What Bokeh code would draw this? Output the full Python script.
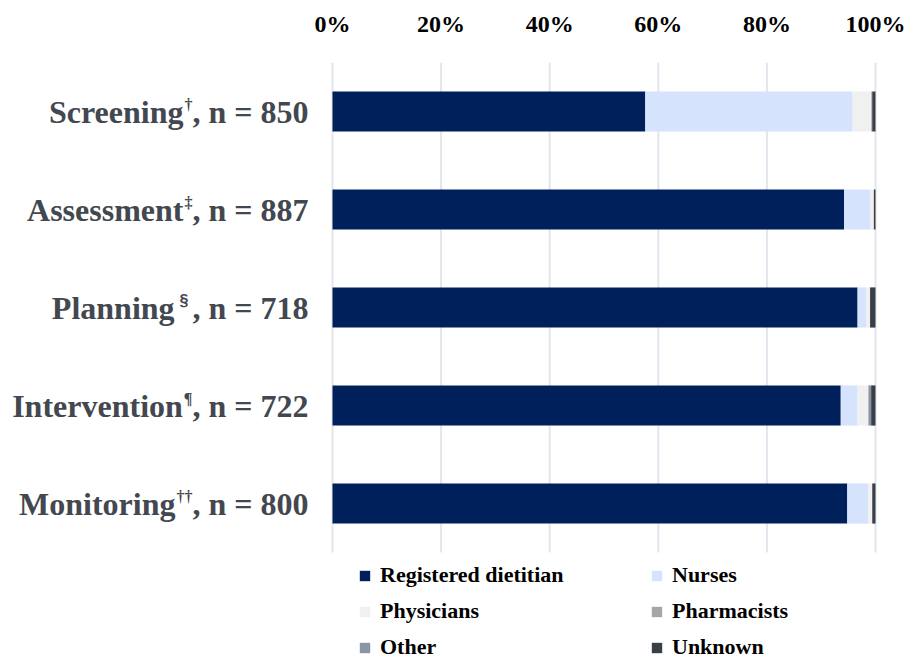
from bokeh.plotting import figure
from bokeh.models import (Label, Legend, LegendItem, Range1d,
                          FixedTicker, ColumnDataSource)
from bokeh.embed import file_html
from bokeh.resources import INLINE

# ---------------- data ----------------
stages = ["Screening", "Assessment", "Planning", "Intervention", "Monitoring"]
footnotes = ["\u2020", "\u2021", "\u00a7", "\u00b6", "\u2020\u2020"]
sample_sizes = [850, 887, 718, 722, 800]

series = ["Registered dietitian", "Nurses", "Physicians", "Pharmacists", "Other", "Unknown"]
registered_dietitian = [57.6, 94.2, 96.7, 93.6, 94.8]
nurses = [38.2, 4.8, 1.6, 3.1, 3.9]
physicians = [3.4, 0.7, 0.7, 2.0, 0.7]
pharmacists = [0.1, 0.0, 0.0, 0.0, 0.0]
other = [0.1, 0.0, 0.0, 0.5, 0.0]
unknown = [0.6, 0.3, 1.0, 0.8, 0.6]

x_ticks = [0, 20, 40, 60, 80, 100]
x_tick_labels = ["0%", "20%", "40%", "60%", "80%", "100%"]

colors = ["#00205c", "#d6e3fc", "#f0f0f0", "#a6a6a6", "#8a94a4", "#3a3e46"]

SERIF = "'Times New Roman', 'Liberation Serif', serif"
SANS = "Arial, 'Liberation Sans', sans-serif"

# ---------------- layout constants (pixels) ----------------
WIDTH, HEIGHT = 912, 658
PLOT_LEFT, PLOT_RIGHT = 332, 875      # where 0% and 100% fall
TOP = 62                              # top of the bar area
ROW_PX = 98                           # pixels per category

n_cat = len(stages)
ypos = [n_cat - 1 - i for i in range(n_cat)]   # first category on top

px_per_unit = (PLOT_RIGHT - PLOT_LEFT) / 100.0
x_start = 0 - PLOT_LEFT / px_per_unit
x_end = 100 + (WIDTH - PLOT_RIGHT) / px_per_unit
y_top = n_cat - 0.5
y_bottom = y_top - (HEIGHT - TOP) / ROW_PX

source = ColumnDataSource(dict(
    y=ypos,
    s0=registered_dietitian, s1=nurses, s2=physicians,
    s3=pharmacists, s4=other, s5=unknown,
))

p = figure(width=WIDTH, height=HEIGHT, output_backend="svg", toolbar_location=None,
           y_range=Range1d(y_bottom, y_top),
           x_range=Range1d(x_start, x_end), x_axis_location="above",
           min_border_left=0, min_border_right=0,
           min_border_top=TOP, min_border_bottom=0)

# vertical gridlines limited to the bar area
grid_src = ColumnDataSource(dict(x=x_ticks, y0=[-0.5] * len(x_ticks),
                                 y1=[n_cat - 0.5] * len(x_ticks)))
p.segment(x0="x", x1="x", y0="y0", y1="y1", source=grid_src,
          line_color="#e2e6ec", line_width=2, level="underlay")

renderers = p.hbar_stack(["s0", "s1", "s2", "s3", "s4", "s5"], y="y",
                         height=0.41, color=colors, line_color=None, source=source)

p.outline_line_color = None
p.yaxis.visible = False
p.xgrid.visible = False
p.ygrid.visible = False

ax = p.xaxis[0]
ax.ticker = FixedTicker(ticks=x_ticks)
ax.major_label_overrides = {t: l for t, l in zip(x_ticks, x_tick_labels)}
ax.axis_line_color = None
ax.major_tick_line_color = None
ax.minor_tick_line_color = None
ax.major_label_text_font = SERIF
ax.major_label_text_font_style = "bold"
ax.major_label_text_font_size = "24px"
ax.major_label_text_color = "black"
ax.major_label_standoff = 20

# ---------------- category labels (with superscripts) ----------------
W = {" ": 250, ",": 250, "n": 556, "=": 570, "\u2020": 500, "\u2021": 500,
     "\u00a7": 556, "\u00b6": 540}
for d in "0123456789":
    W[d] = 500

cat_size = 32
sup_size = 16
label_color = "#434850"
gap = 24

for yv, stage, fn, n in zip(ypos, stages, footnotes, sample_sizes):
    suffix = ", n = %d" % n
    w_suffix = sum(W[c] for c in suffix) / 1000 * cat_size
    sup_font = SERIF
    extra = 1
    if fn == "\u00a7":
        sup_font = SANS
        extra = 9
    w_sup = sum(W[c] for c in fn) / 1000 * sup_size + extra
    p.add_layout(Label(x=0, y=yv, x_offset=-gap, text=suffix,
                       text_align="right", text_baseline="middle",
                       text_font=SERIF, text_font_style="bold",
                       text_font_size="%dpx" % cat_size, text_color=label_color))
    p.add_layout(Label(x=0, y=yv, x_offset=-gap - w_suffix - (extra - 1) / 2,
                       y_offset=7, text=fn,
                       text_align="right", text_baseline="middle",
                       text_font=sup_font, text_font_style="bold",
                       text_font_size="%dpx" % sup_size, text_color=label_color))
    p.add_layout(Label(x=0, y=yv, x_offset=-gap - w_suffix - w_sup, text=stage,
                       text_align="right", text_baseline="middle",
                       text_font=SERIF, text_font_style="bold",
                       text_font_size="%dpx" % cat_size, text_color=label_color))

# ---------------- legend ----------------
legend = Legend(items=[LegendItem(label=s, renderers=[r]) for s, r in zip(series, renderers)],
                orientation="horizontal", ncols=2, location=(358, -2),
                border_line_color=None, background_fill_alpha=0,
                label_text_font=SERIF, label_text_font_style="bold",
                label_text_font_size="22px", label_text_color="black",
                glyph_width=13, glyph_height=13, label_standoff=9,
                label_width=260, label_height=24, spacing=10,
                padding=0, margin=0)
p.add_layout(legend, "center")

open("out.html", "w").write(file_html(p, INLINE))
